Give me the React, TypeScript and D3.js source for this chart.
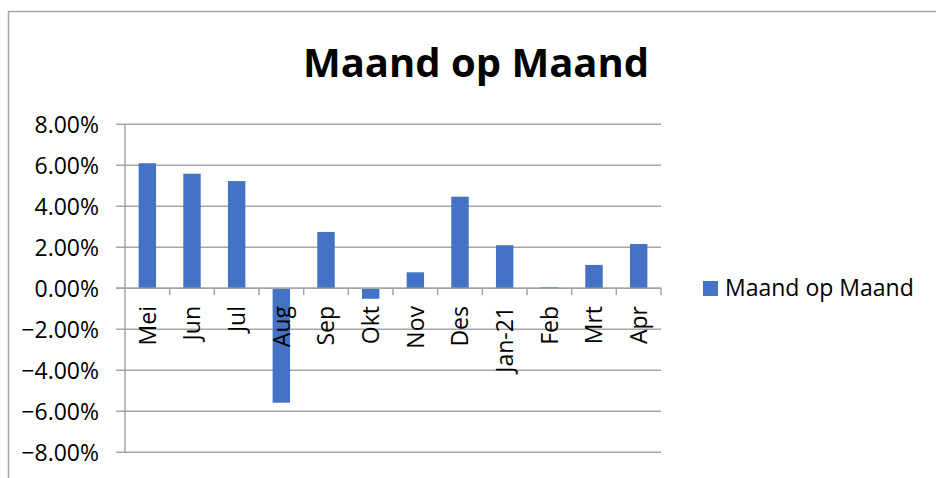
import React from 'react';
import * as d3 from 'd3';

// months on the category axis
const months = ['Mei', 'Jun', 'Jul', 'Aug', 'Sep', 'Okt', 'Nov', 'Des', 'Jan-21', 'Feb', 'Mrt', 'Apr'];
// month on month change, in percent
const change = [6.1, 5.59, 5.23, -5.58, 2.75, -0.51, 0.78, 4.47, 2.1, 0.05, 1.14, 2.16];
const yTicks = [8, 6, 4, 2, 0, -2, -4, -6, -8];
const seriesName = 'Maand op Maand';

const width = 936;
const height = 478;
const font = '"Open Sans", sans-serif';

const App = () => {
    const plot = { left: 125, right: 661, top: 124.3, bottom: 452.3 };

    const x = d3.scaleBand().domain(months).range([plot.left, plot.right]).paddingInner(0.61).paddingOuter(0.305);
    const xEdge = d3.scaleLinear().domain([0, months.length]).range([plot.left, plot.right]);
    const y = d3.scaleLinear().domain([-8, 8]).range([plot.bottom, plot.top]);

    const grid = '#a6a6a6';
    const barColor = '#4472C4';

    return (
        <div style={{ position: 'absolute', left: 0, top: 0 }}>
            <svg width={width} height={height} style={{ display: 'block', background: '#fff' }}>
                {/* chart frame, runs off the right and bottom */}
                <rect x={8.5} y={11.5} width={940} height={480} fill="#fff" stroke={grid} strokeWidth={1.5} />

                <text x={476} y={77} textAnchor="middle" fontFamily={font} fontWeight="bold" fontSize={40} fill="#000">
                    {seriesName}
                </text>

                {/* gridlines */}
                {yTicks.map((t) => (
                    <line key={t} x1={116} x2={plot.right} y1={y(t)} y2={y(t)} stroke={grid} strokeWidth={1.5} />
                ))}
                {yTicks.map((t) => (
                    <text key={'l' + t} x={99} y={y(t)} dy="0.36em" textAnchor="end" fontFamily={font} fontSize={23} fill="#000">
                        {d3.format('.2f')(t)}%
                    </text>
                ))}

                {/* bars */}
                {months.map((m, i) => (
                    <rect
                        key={m}
                        x={x(m)}
                        width={x.bandwidth()}
                        y={y(Math.max(0, change[i]))}
                        height={Math.abs(y(change[i]) - y(0))}
                        fill={barColor}
                    />
                ))}

                {/* axes */}
                <line x1={plot.left} x2={plot.left} y1={plot.top} y2={plot.bottom} stroke={grid} strokeWidth={1.5} />
                <line x1={116} x2={plot.right} y1={y(0)} y2={y(0)} stroke={grid} strokeWidth={1.5} />
                {d3.range(1, months.length + 1).map((k) => (
                    <line key={k} x1={xEdge(k)} x2={xEdge(k)} y1={y(0)} y2={y(0) + 7} stroke={grid} strokeWidth={1.5} />
                ))}

                {/* category labels */}
                {months.map((m) => {
                    const cx = x(m) + x.bandwidth() / 2;
                    return (
                        <text
                            key={'m' + m}
                            transform={`translate(${cx},306) rotate(-90)`}
                            dy="0.36em"
                            textAnchor="end"
                            fontFamily={font}
                            fontSize={23}
                            fill="#000"
                        >
                            {m}
                        </text>
                    );
                })}

                {/* legend */}
                <rect x={703} y={281} width={15} height={15} fill={barColor} />
                <text x={725} y={296} fontFamily={font} fontSize={23} fill="#000">
                    {seriesName}
                </text>
            </svg>
        </div>
    );
};

export default App;
